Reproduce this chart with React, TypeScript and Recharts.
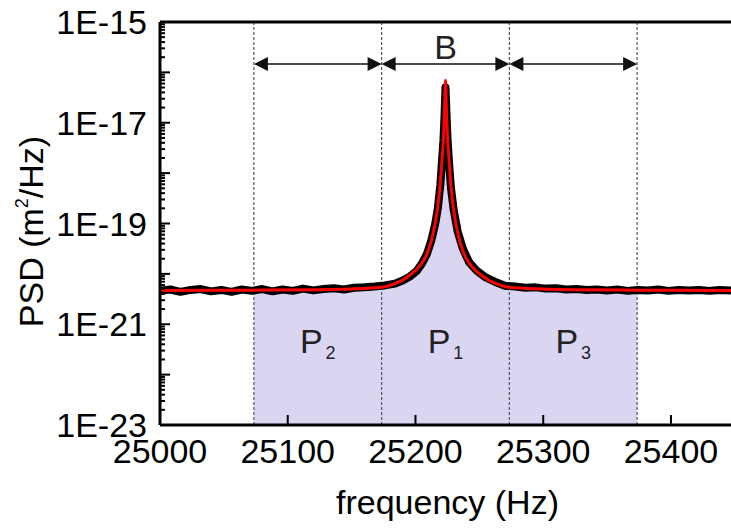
import React from 'react';
import { ComposedChart, Line, Area, XAxis, YAxis, ReferenceLine, ReferenceDot } from 'recharts';

const FONT = '"Liberation Sans", Arial, Helvetica, sans-serif';

// measured spectrum (black trace)
const dataFreq = [
    25000, 25008, 25016, 25024, 25032, 25040, 25048, 25056, 25064, 25072, 25080, 25088,
    25096, 25104, 25112, 25120, 25128, 25136, 25144, 25152, 25160, 25168, 25176, 25184,
    25190, 25196, 25201, 25205, 25209, 25212.5, 25215.5, 25217.5, 25219.5, 25220.8, 25221.9, 25222.7,
    25223.5, 25224.3, 25225.1, 25226.2, 25227.8, 25230, 25233, 25237, 25242, 25248, 25255, 25262,
    25270, 25278, 25286, 25294, 25302, 25310, 25318, 25326, 25334, 25342, 25350, 25358,
    25366, 25374, 25382, 25390, 25398, 25406, 25414, 25422, 25430, 25438, 25447,
];
const dataPsd = [
    4.6e-21, 4.9e-21, 4.4e-21, 4.8e-21, 5.0e-21, 4.5e-21, 4.8e-21, 4.4e-21, 4.9e-21, 4.6e-21, 5.0e-21, 4.5e-21,
    4.9e-21, 4.6e-21, 5.1e-21, 4.7e-21, 5.0e-21, 5.2e-21, 4.9e-21, 5.3e-21, 5.4e-21, 5.6e-21, 5.9e-21, 6.4e-21,
    7.4e-21, 9.0e-21, 1.15e-20, 1.6e-20, 2.5e-20, 4.7e-20, 1.0e-19, 2.0e-19, 6.0e-19, 1.8e-18, 4.5e-18, 1.3e-17,
    5.0e-17, 1.4e-17, 4.8e-18, 1.7e-18, 5.0e-19, 1.8e-19, 7.0e-20, 3.2e-20, 1.7e-20, 1.15e-20, 8.5e-21, 7.0e-21,
    5.8e-21, 5.6e-21, 5.3e-21, 5.4e-21, 5.1e-21, 5.2e-21, 4.9e-21, 5.0e-21, 4.8e-21, 4.9e-21, 4.7e-21, 4.9e-21,
    4.6e-21, 4.8e-21, 4.7e-21, 4.9e-21, 4.6e-21, 4.8e-21, 4.7e-21, 4.8e-21, 4.6e-21, 4.8e-21, 4.7e-21,
];

// lorentzian fit (red)
const fitFreq = [
    25000, 25073.5, 25123.5, 25148.5, 25173.5, 25183.5, 25194.5, 25203.5, 25209, 25212.9, 25216.9,
    25219.2, 25220.8, 25221.9, 25222.7, 25223.5, 25224.3, 25225.1, 25226.2, 25227.8, 25230.1,
    25234.1, 25238, 25243.5, 25252.5, 25263.5, 25273.5, 25298.5, 25323.5, 25373.5, 25447,
];
const fitPsd = [
    4.67e-21, 4.75e-21, 4.85e-21, 5.0e-21, 5.4e-21, 6.3e-21, 9.0e-21, 1.45e-20, 2.5e-20, 5.0e-20, 1.7e-19,
    5.5e-19, 1.9e-18, 5.0e-18, 1.5e-17, 7.0e-17, 1.5e-17, 5.0e-18, 1.9e-18, 5.5e-19, 1.7e-19,
    5.0e-20, 2.5e-20, 1.45e-20, 9.0e-21, 6.3e-21, 5.4e-21, 5.0e-21, 4.85e-21, 4.75e-21, 4.67e-21,
];

// integration windows
const bandEdges = [25073.5, 25173.5, 25273.5, 25373.5];
const bandNames = ['P', 'P', 'P'];
const bandSubs = ['2', '1', '3'];
const bandLabelPsd = 2.7e-22;
const arrowPsd = 1.47e-16;
const arrowLabels = ['', 'B', ''];

const xTicks = [25000, 25100, 25200, 25300, 25400];
const decades = [-23, -22, -21, -20, -19, -18, -17, -16, -15];
const minorSteps = [2, 3, 4, 5, 6, 7, 8, 9];

const measured = dataFreq.map((f, i) => ({ f, v: dataPsd[i] }));
const fit = fitFreq.map((f, i) => ({ f, v: fitPsd[i] }));
const shade = fit.filter(p => p.f >= bandEdges[0] && p.f <= bandEdges[bandEdges.length - 1]);

const majorTicks = decades.map(d => Number(`1e${d}`));
const minorTicks: number[] = [];
decades.forEach(d => {
    if (d < -15) minorSteps.forEach(m => minorTicks.push(Number(`${m}e${d}`)));
});
const labelTicks = decades.filter(d => Math.abs(d) % 2 === 1).map(d => Number(`1e${d}`));

const YTick = (props: any) => {
    const { x, y, payload } = props;
    const e = Math.round(Math.log10(payload.value));
    return (
        <text x={x} y={y} dy={12} textAnchor="end" fontSize={34} fontFamily={FONT} fill="#000">{`1E${e}`}</text>
    );
};

const XTick = (props: any) => {
    const { x, y, payload } = props;
    return (
        <text x={x} y={y + 38} textAnchor="middle" fontSize={34} fontFamily={FONT} fill="#000">{payload.value}</text>
    );
};

const XLabel = (props: any) => {
    const vb = props.viewBox || { x: 160, y: 425, width: 571, height: 106 };
    return (
        <text x={vb.x + vb.width / 2 + 2} y={vb.y + 89} textAnchor="middle" fontSize={34} fontFamily={FONT} fill="#000">
            frequency (Hz)
        </text>
    );
};

const YLabel = (props: any) => {
    const vb = props.viewBox || { x: 0, y: 22, width: 160, height: 403 };
    const cx = 43;
    const cy = vb.y + vb.height / 2 + 8;
    return (
        <text x={cx} y={cy} transform={`rotate(-90 ${cx} ${cy})`} textAnchor="middle" fontSize={34} fontFamily={FONT} fill="#000">
            PSD (m<tspan fontSize={18} dy={-15}>2</tspan><tspan dy={15}>/Hz)</tspan>
        </text>
    );
};

// inward tick marks drawn from the axis scales
const yTickMark = (len: number) => (p: any) => {
    const left = Math.min(p.x1, p.x2);
    return <line x1={left} x2={left + len} y1={p.y1} y2={p.y1} stroke="#000" strokeWidth={2} />;
};
const xTickMark = (p: any) => {
    const bottom = Math.max(p.y1, p.y2);
    return <line x1={p.x1} x2={p.x1} y1={bottom} y2={bottom - 10} stroke="#000" strokeWidth={2} />;
};

const arrowShape = (label: string) => (p: any) => {
    const { x1, y1, x2, y2 } = p;
    const L = 14;
    const H = 7;
    return (
        <g>
            <line x1={x1 + L - 1} y1={y1} x2={x2 - L + 1} y2={y2} stroke="#111" strokeWidth={1.4} />
            <polygon points={`${x1},${y1} ${x1 + L},${y1 - H} ${x1 + L},${y1 + H}`} fill="#111" />
            <polygon points={`${x2},${y2} ${x2 - L},${y2 - H} ${x2 - L},${y2 + H}`} fill="#111" />
            {label && (
                <text x={(x1 + x2) / 2} y={y1 - 5} textAnchor="middle" fontSize={34} fontFamily={FONT} fill="#222">{label}</text>
            )}
        </g>
    );
};

const bandLabelShape = (name: string, sub: string) => (p: any) => (
    <text x={p.cx} y={p.cy} textAnchor="middle" fontSize={34} fontFamily={FONT} fill="#222">
        {name}<tspan fontSize={18} dx={3} dy={6}>{sub}</tspan>
    </text>
);

export default function App() {
    return (
        <div style={{ position: 'absolute', left: 0, top: 0, background: '#fff' }}>
            <ComposedChart width={731} height={531} margin={{ top: 22, right: 0, bottom: 0, left: 0 }}>
                <XAxis
                    type="number" dataKey="f" domain={[25000, 25447]} ticks={xTicks} interval={0}
                    allowDataOverflow height={106} tickSize={0} tickMargin={0} tickLine={false}
                    tick={<XTick />} axisLine={{ stroke: '#000', strokeWidth: 3 }}
                    label={{ content: XLabel }}
                />
                <YAxis
                    type="number" scale="log" domain={[1e-23, 1e-15]} ticks={labelTicks} interval={0}
                    allowDataOverflow width={160} tickSize={0} tickMargin={13} tickLine={false}
                    tick={<YTick />} axisLine={{ stroke: '#000', strokeWidth: 3 }}
                    label={{ content: YLabel }}
                />
                <Area
                    data={shade} dataKey="v" type="monotone" fill="#dad6f2" fillOpacity={1}
                    stroke="none" baseValue={1e-23} isAnimationActive={false}
                />
                {bandEdges.map(f => (
                    <ReferenceLine key={f} x={f} stroke="#555" strokeDasharray="3 2" strokeWidth={1.2} />
                ))}
                <Line
                    data={measured} dataKey="v" type="linear" stroke="#000" strokeWidth={8}
                    strokeLinejoin="round" dot={false} isAnimationActive={false}
                />
                <Line
                    data={fit} dataKey="v" type="monotone" stroke="#ff0000" strokeWidth={3}
                    dot={false} isAnimationActive={false}
                />
                <ReferenceLine y={1e-15} stroke="#000" strokeWidth={3} />
                {majorTicks.map(v => (
                    <ReferenceLine key={`ymaj-${v}`} y={v} shape={yTickMark(10)} />
                ))}
                {minorTicks.map(v => (
                    <ReferenceLine key={`ymin-${v}`} y={v} shape={yTickMark(5)} />
                ))}
                {xTicks.map(v => (
                    <ReferenceLine key={`xt-${v}`} x={v} shape={xTickMark} />
                ))}
                {bandEdges.slice(0, -1).map((f, i) => (
                    <ReferenceLine
                        key={`arr-${i}`}
                        segment={[{ x: f, y: arrowPsd }, { x: bandEdges[i + 1], y: arrowPsd }]}
                        shape={arrowShape(arrowLabels[i])}
                    />
                ))}
                {bandEdges.slice(0, -1).map((f, i) => (
                    <ReferenceDot
                        key={`lab-${i}`}
                        x={(f + bandEdges[i + 1]) / 2} y={bandLabelPsd} r={0}
                        shape={bandLabelShape(bandNames[i], bandSubs[i])}
                    />
                ))}
            </ComposedChart>
        </div>
    );
}
